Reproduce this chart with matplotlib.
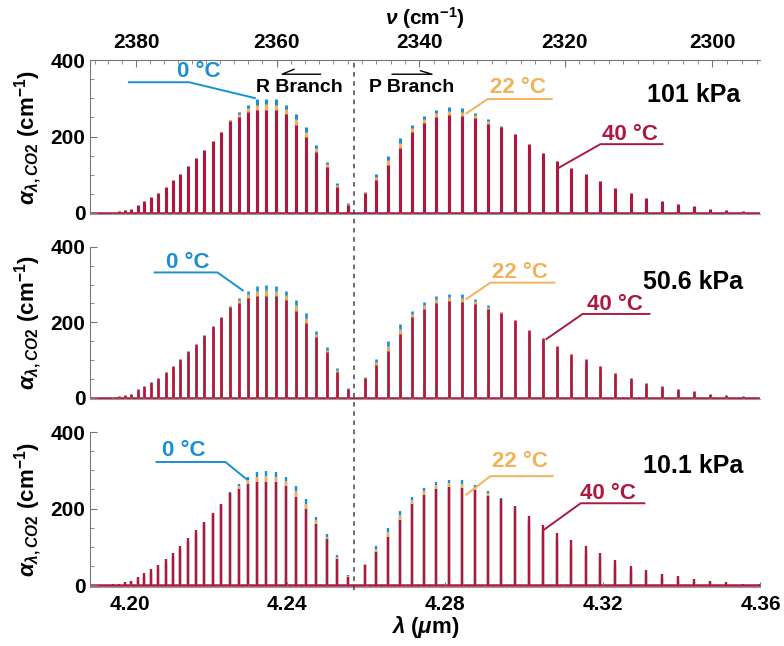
import numpy as np
import matplotlib
matplotlib.use('Agg')
import matplotlib.pyplot as plt
import matplotlib.transforms as mtransforms
from matplotlib.lines import Line2D
from matplotlib.ticker import MultipleLocator

plt.rcParams['font.family'] = ['Liberation Sans', 'DejaVu Sans']
plt.rcParams['font.weight'] = 'bold'
plt.rcParams['mathtext.fontset'] = 'custom'
plt.rcParams['mathtext.rm'] = 'Liberation Sans:bold'
plt.rcParams['mathtext.it'] = 'Liberation Sans:italic:bold'
plt.rcParams['mathtext.bf'] = 'Liberation Sans:bold'

# line centres (cm-1), R branch J=0..56, P branch J=2..58
R_nu = [2349.92, 2351.44, 2352.95, 2354.43, 2355.89, 2357.32, 2358.72, 2360.10,
        2361.46, 2362.79, 2364.10, 2365.38, 2366.64, 2367.87, 2369.08, 2370.26,
        2371.42, 2372.55, 2373.66, 2374.74, 2375.80, 2376.83, 2377.84, 2378.83,
        2379.79, 2380.72, 2381.63, 2382.51, 2383.37]
P_nu = [2347.57, 2345.98, 2344.36, 2342.72, 2341.06, 2339.37, 2337.65, 2335.91,
        2334.14, 2332.35, 2330.54, 2328.70, 2326.83, 2324.95, 2323.03, 2321.09,
        2319.13, 2317.14, 2315.13, 2313.09, 2311.03, 2308.94, 2306.82, 2304.69,
        2302.53, 2300.34, 2298.13, 2295.89, 2293.63]

# peak absorption coefficient (cm-1)
R_0C = [25, 78, 134, 178, 224, 259, 282, 297, 299, 297, 282, 265, 243, 210, 183,
        158, 133, 112, 91, 73, 56, 41, 31, 22, 14, 7, 4, 2, 1]
R_22C = [23, 73, 127, 169, 211, 245, 271, 283, 285, 283, 274, 259, 242, 212, 186,
         162, 138, 118, 97, 79, 62, 47, 37, 27, 18, 9, 5, 3, 1.5]
R_40C = [22, 69, 121, 160, 198, 230, 259, 269, 270, 269, 265, 252, 241, 213, 189,
         166, 143, 124, 103, 85, 68, 52, 42, 31, 22, 11, 7, 4, 2]
P_0C = [56, 102, 149, 195, 230, 253, 269, 276, 274, 262, 245, 227, 195, 165, 140,
        115, 95, 78, 62, 48, 36, 27, 19, 13, 9, 5, 3, 2, 1]
P_22C = [54, 95, 138, 183, 222, 245, 261, 266, 264, 255, 240, 226, 201, 173, 149,
         126, 106, 89, 73, 57, 45, 35, 26, 19, 13, 8, 5, 3, 1.5]
P_40C = [52, 86, 125, 169, 213, 236, 252, 256, 254, 248, 234, 224, 207, 180, 158,
         136, 117, 102, 84, 66, 51, 40, 30, 23, 17, 11, 7, 4, 2]

pressures = ['101 kPa', '50.6 kPa', '10.1 kPa']
band_centre = 4.257

blue = '#1b8fd2'
orange = '#f2b25a'
red = '#ad1840'

wl_R = 1e4 / np.array(R_nu)
wl_P = 1e4 / np.array(P_nu)

fig = plt.figure(figsize=(7.84, 6.46), dpi=100)
rects = [[0.115, 0.668, 0.855, 0.239],
         [0.115, 0.382, 0.855, 0.236],
         [0.115, 0.092, 0.855, 0.239]]
lws = [2.2, 1.9, 1.7]

# annotation layout per panel: (text xy, leader points)
ann = [
    {'0': ((4.2175, 369), [(4.1996, 342), (4.2151, 342), (4.232, 300)]),
     '22': ((4.2984, 327), [(4.3073, 298), (4.2908, 298), (4.2852, 259)]),
     '40': ((4.3268, 204), [(4.3354, 180), (4.3194, 180), (4.3088, 118)]),
     'p': (4.343, 308)},
    {'0': ((4.2147, 358), [(4.2061, 332), (4.2223, 332), (4.2289, 283)]),
     '22': ((4.299, 331), [(4.3080, 305), (4.2915, 305), (4.2852, 260)]),
     '40': ((4.3232, 246), [(4.3321, 222), (4.3149, 222), (4.3055, 154)]),
     'p': (4.343, 307)},
    {'0': ((4.2137, 353), [(4.2066, 322), (4.2243, 322), (4.2299, 275)]),
     '22': ((4.299, 324), [(4.3075, 285), (4.2915, 285), (4.2852, 235)]),
     '40': ((4.3212, 240), [(4.3308, 214), (4.3144, 214), (4.3050, 144)]),
     'p': (4.343, 311)},
]

axes = []
for i, rect in enumerate(rects):
    ax = fig.add_axes(rect)
    axes.append(ax)
    ax.axhline(0, color=red, lw=1.8, zorder=1)
    for wl, h0, h22, h40 in [(wl_R, R_0C, R_22C, R_40C), (wl_P, P_0C, P_22C, P_40C)]:
        ax.vlines(wl, 0, h0, color=blue, lw=lws[i], zorder=2)
        ax.vlines(wl, 0, h22, color=orange, lw=lws[i], zorder=3)
        ax.vlines(wl, 0, h40, color=red, lw=lws[i], zorder=4)

    ax.set_xlim(4.19, 4.36)
    ax.set_ylim(-4, 400)
    ax.set_yticks([0, 200, 400])
    ax.yaxis.set_minor_locator(MultipleLocator(50))
    ax.tick_params(axis='y', which='both', direction='in', labelsize=15, color='#777777')
    ax.tick_params(axis='y', which='major', length=5)
    ax.tick_params(axis='y', which='minor', length=3)
    for s in ['top', 'right']:
        ax.spines[s].set_visible(False)
    ax.spines['left'].set_color('#777777')
    ax.spines['bottom'].set_color('#999999')
    ax.spines['left'].set_linewidth(0.8)
    ax.spines['bottom'].set_linewidth(0.8)

    if i < 2:
        ax.tick_params(axis='x', which='both', bottom=False, labelbottom=False)
    else:
        ax.set_xticks([4.20, 4.24, 4.28, 4.32, 4.36])
        ax.set_xticklabels(['4.20', '4.24', '4.28', '4.32', '4.36'])
        ax.xaxis.set_minor_locator(MultipleLocator(0.01))
        ax.tick_params(axis='x', which='both', direction='in', labelsize=15,
                       color='#777777', pad=6)
        ax.set_xlabel(r'$\lambda$ ($\mu$m)', fontsize=16, fontweight='bold', labelpad=0)

    a = ann[i]
    for key, col, lab in [('0', blue, '0 °C'), ('22', orange, '22 °C'), ('40', red, '40 °C')]:
        (tx, ty), pts = a[key]
        ax.text(tx, ty, lab, color=col, fontsize=16, fontweight='bold',
                ha='center', va='center', zorder=6)
        xs, ys = zip(*pts)
        ax.plot(xs, ys, color=col, lw=1.4, zorder=6, solid_capstyle='butt')
    ax.text(a['p'][0], a['p'][1], pressures[i], fontsize=18, fontweight='bold',
            ha='center', va='center')

    yc = rect[1] + rect[3] / 2
    fig.text(0.036, yc, r'$\alpha_{\lambda,CO2}$ (cm$^{-1}$)', rotation=90,
             fontsize=16, fontweight='bold', ha='center', va='center')

top = axes[0]
# branch labels and harpoons
top.text(4.2431, 327, 'R Branch', fontsize=14, ha='center', va='center')
top.plot([4.2484, 4.2387, 4.2417], [363, 363, 376], color='black', lw=1.0)
top.text(4.2715, 327, 'P Branch', fontsize=14, ha='center', va='center')
top.plot([4.2666, 4.2767, 4.2738], [363, 363, 372], color='black', lw=1.0)

# wavenumber axis on top
sec = top.secondary_xaxis('top', functions=(lambda x: 1e4 / x, lambda v: 1e4 / v))
sec.set_xticks([2380, 2360, 2340, 2320, 2300])
sec.xaxis.set_minor_locator(MultipleLocator(2))
sec.tick_params(axis='x', which='both', direction='in', labelsize=15, color='#777777', pad=6)
sec.tick_params(axis='x', which='major', length=5)
sec.tick_params(axis='x', which='minor', length=3)
sec.spines['top'].set_color('#777777')
sec.spines['top'].set_linewidth(0.8)
fig.text(0.542, 0.972, r'$\nu$ (cm$^{-1}$)', fontsize=15, fontweight='bold',
         ha='center', va='center')

# band centre dashed line across all panels
trans = mtransforms.blended_transform_factory(top.transData, fig.transFigure)
fig.add_artist(Line2D([band_centre, band_centre], [0.087, 0.907], transform=trans,
                      color='#444444', lw=1.1, ls=(0, (3, 3)), zorder=10))

fig.savefig('out.png', dpi=100)
